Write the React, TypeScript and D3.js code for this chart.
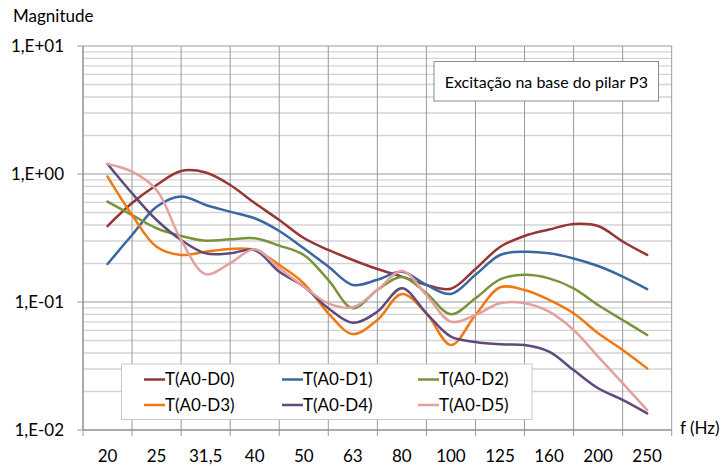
import React from "react";
import * as d3 from "d3";

// Frequency bands (Hz), one-third octave labels
const categories = ["20", "25", "31,5", "40", "50", "63", "80", "100", "125", "160", "200", "250"];

// Magnitudes every half band (23 samples: band centres and band edges)
const seriesNames = ["T(A0-D0)", "T(A0-D1)", "T(A0-D2)", "T(A0-D3)", "T(A0-D4)", "T(A0-D5)"];

const d0 = [0.392, 0.593, 0.821, 1.055, 1.027, 0.821, 0.593, 0.437, 0.316, 0.255, 0.213, 0.181, 0.158, 0.136, 0.127, 0.181, 0.269, 0.328, 0.368, 0.407, 0.392, 0.297, 0.233];
const d1 = [0.198, 0.334, 0.555, 0.667, 0.573, 0.508, 0.451, 0.359, 0.263, 0.189, 0.136, 0.149, 0.172, 0.136, 0.1155, 0.163, 0.233, 0.247, 0.240, 0.219, 0.191, 0.158, 0.126];
const d2 = [0.608, 0.478, 0.377, 0.328, 0.301, 0.309, 0.315, 0.276, 0.233, 0.149, 0.0893, 0.124, 0.157, 0.117, 0.0802, 0.107, 0.150, 0.163, 0.153, 0.128, 0.0947, 0.0723, 0.0552];
const d3v = [0.953, 0.478, 0.270, 0.233, 0.247, 0.260, 0.255, 0.195, 0.140, 0.0816, 0.0562, 0.0723, 0.1155, 0.0816, 0.0461, 0.0791, 0.130, 0.124, 0.104, 0.0816, 0.0569, 0.0422, 0.0303];
const d4 = [1.197, 0.707, 0.437, 0.305, 0.240, 0.240, 0.255, 0.172, 0.132, 0.0893, 0.0689, 0.0840, 0.128, 0.0816, 0.0536, 0.0487, 0.0467, 0.0461, 0.0409, 0.0294, 0.0212, 0.0172, 0.0135];
const d5 = [1.197, 1.042, 0.750, 0.305, 0.165, 0.201, 0.258, 0.184, 0.132, 0.0977, 0.0909, 0.124, 0.175, 0.113, 0.0702, 0.0791, 0.0977, 0.0977, 0.0840, 0.0604, 0.0374, 0.0232, 0.0143];

const seriesValues = [d0, d1, d2, d3v, d4, d5];
const seriesColors = ["#953735", "#3A67A0", "#77933C", "#F07810", "#604A7B", "#E3A09E"];

const yTickValues = [0.01, 0.1, 1, 10];
const yTickLabels = ["1,E-02", "1,E-01", "1,E+00", "1,E+01"];

const FONT = "Lato, 'Open Sans', sans-serif";

export default function App() {
  const W = 723;
  const H = 466;
  const left = 83;
  const right = 671.7;
  const top = 46;
  const bottom = 430;

  const x = d3.scaleLinear().domain([0, categories.length]).range([left, right]);
  const y = d3.scaleLog().domain([0.01, 10]).range([bottom, top]);

  const line = d3
    .line<number>()
    .x((_, i) => x(i / 2 + 0.5))
    .y((v) => y(v))
    .curve(d3.curveCatmullRom.alpha(0.5));

  const minor: number[] = [];
  [0.01, 0.1, 1].forEach((d) => {
    for (let m = 2; m <= 9; m++) minor.push(d * m);
  });

  const boundaries = d3.range(0, categories.length + 1);

  const legendCols = [144, 282, 418];
  const legendRows = [379.5, 405];

  return (
    <svg
      width={W}
      height={H}
      style={{ position: "absolute", left: 0, top: 0, display: "block", background: "#fff" }}
      fontFamily={FONT}
    >
      <rect x={0} y={0} width={W} height={H} fill="#fff" />
      {/* minor horizontal gridlines */}
      {minor.map((v, i) => (
        <line key={"mn" + i} x1={left} x2={right} y1={y(v)} y2={y(v)} stroke="#d4d4d4" strokeWidth={1.4} />
      ))}
      {/* major horizontal gridlines */}
      {yTickValues.map((v, i) => (
        <line key={"mj" + i} x1={left - 6} x2={right} y1={y(v)} y2={y(v)} stroke="#9a9a9a" strokeWidth={1} />
      ))}
      {/* vertical gridlines */}
      {boundaries.map((b) => (
        <line key={"vg" + b} x1={x(b)} x2={x(b)} y1={top} y2={bottom + 6} stroke="#9a9a9a" strokeWidth={1} />
      ))}
      {/* axes */}
      <line x1={left} x2={left} y1={top} y2={bottom} stroke="#8a8a8a" strokeWidth={1} />
      <line x1={left} x2={right} y1={bottom} y2={bottom} stroke="#8a8a8a" strokeWidth={1} />

      {/* y tick labels */}
      {yTickValues.map((v, i) => (
        <text key={"yl" + i} x={64} y={y(v)} dy="0.35em" textAnchor="end" fontSize={17} fill="#000">
          {yTickLabels[i]}
        </text>
      ))}
      {/* x tick labels */}
      {categories.map((c, i) => (
        <text key={"xl" + i} x={x(i + 0.5)} y={462} textAnchor="middle" fontSize={17} fill="#000">
          {c}
        </text>
      ))}

      <text x={13} y={22} fontSize={17} fill="#000">Magnitude</text>
      <text x={680} y={434} fontSize={17} fill="#000">f (Hz)</text>

      {/* series */}
      {seriesValues.map((vals, s) => (
        <path key={"s" + s} d={line(vals) || ""} fill="none" stroke={seriesColors[s]} strokeWidth={2.5} strokeLinejoin="round" strokeLinecap="round" />
      ))}

      {/* legend */}
      <rect x={121.5} y={364} width={410.5} height={55.5} fill="#fff" stroke="#c8c8c8" strokeWidth={1} />
      {seriesNames.map((n, i) => {
        const cx = legendCols[i % 3];
        const cy = legendRows[Math.floor(i / 3)];
        return (
          <g key={"lg" + i}>
            <line x1={cx} x2={cx + 21} y1={cy} y2={cy} stroke={seriesColors[i]} strokeWidth={2.5} />
            <text x={cx + 21} y={cy} dy="0.35em" fontSize={17} fill="#000">{n}</text>
          </g>
        );
      })}

      {/* annotation */}
      <rect x={434} y={61.5} width={224.5} height={39.5} fill="#fff" stroke="#8c8c8c" strokeWidth={1} />
      <text x={546.3} y={82} dy="0.35em" textAnchor="middle" fontSize={16} fill="#000">
        Excitação na base do pilar P3
      </text>
    </svg>
  );
}
